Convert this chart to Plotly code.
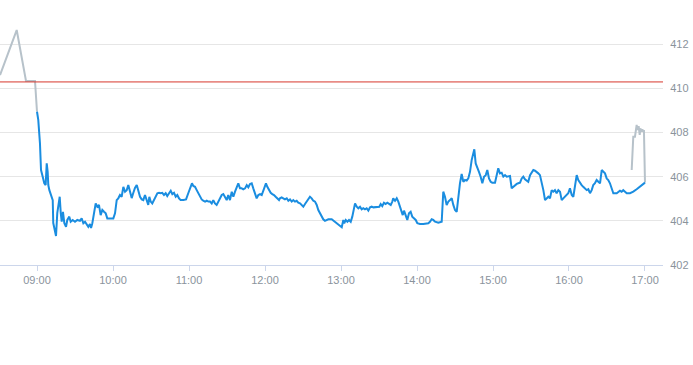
import plotly.graph_objects as go
import pandas as pd

DAY = "2024-01-01 "

pre_times = ["08:30:47", "08:43:58", "08:51:19", "08:58:25", "09:00:00"]
pre_prices = [410.60, 412.64, 410.33, 410.33, 408.94]

session_times = [
    "09:00:00", "09:01:00", "09:02:20", "09:03:10", "09:04:30", "09:05:45", "09:06:50", "09:07:40",
    "09:08:25", "09:08:55", "09:09:45", "09:11:15", "09:12:25", "09:12:50", "09:14:00", "09:15:00",
    "09:16:00", "09:17:10", "09:17:55", "09:18:45", "09:19:30", "09:20:30", "09:21:35", "09:22:55",
    "09:23:55", "09:25:30", "09:26:35", "09:28:10", "09:30:00", "09:31:50", "09:33:55", "09:35:15",
    "09:36:35", "09:37:55", "09:39:15", "09:40:30", "09:41:50", "09:42:40", "09:43:40", "09:45:00",
    "09:46:20", "09:47:35", "09:48:55", "09:50:15", "09:51:35", "09:52:55", "09:54:15", "09:55:30",
    "09:57:40", "10:00:15", "10:01:35", "10:02:55", "10:04:10", "10:05:30", "10:06:50", "10:08:10",
    "10:09:30", "10:10:50", "10:12:05", "10:13:25", "10:14:45", "10:16:00", "10:17:20", "10:18:45",
    "10:20:00", "10:21:20", "10:22:40", "10:23:55", "10:25:15", "10:26:35", "10:27:50", "10:28:40",
    "10:29:45", "10:31:00", "10:32:20", "10:33:45", "10:35:00", "10:36:20", "10:37:40", "10:38:55",
    "10:40:15", "10:41:35", "10:42:50", "10:44:15", "10:45:35", "10:46:50", "10:48:10", "10:49:30",
    "10:50:45", "10:52:05", "10:53:25", "10:55:30", "10:57:40", "10:59:25", "11:01:20", "11:02:20",
    "11:03:25", "11:04:45", "11:06:05", "11:07:20", "11:08:40", "11:10:00", "11:11:15", "11:12:40",
    "11:14:00", "11:15:15", "11:16:35", "11:17:55", "11:19:10", "11:20:30", "11:21:50", "11:23:10",
    "11:24:30", "11:25:50", "11:27:05", "11:28:25", "11:29:45", "11:31:00", "11:32:20", "11:33:45",
    "11:35:00", "11:36:20", "11:37:40", "11:38:55", "11:40:15", "11:41:35", "11:42:50", "11:44:15",
    "11:45:35", "11:46:50", "11:48:10", "11:49:30", "11:50:45", "11:52:05", "11:53:25", "11:54:45",
    "11:56:05", "11:57:25", "11:58:40", "12:00:00", "12:00:45", "12:01:50", "12:03:10", "12:04:30",
    "12:05:45", "12:07:05", "12:08:25", "12:09:45", "12:11:05", "12:11:50", "12:13:10", "12:14:25",
    "12:15:45", "12:17:10", "12:18:25", "12:19:45", "12:21:05", "12:22:20", "12:23:40", "12:25:00",
    "12:26:15", "12:27:40", "12:29:00", "12:30:15", "12:31:35", "12:32:55", "12:34:10", "12:35:30",
    "12:36:50", "12:38:10", "12:39:30", "12:40:50", "12:42:05", "12:43:25", "12:44:45", "12:46:00",
    "12:47:20", "12:48:45", "12:50:00", "12:52:40", "12:55:15", "12:56:35", "12:57:50", "12:59:15",
    "13:00:35", "13:01:50", "13:02:35", "13:03:45", "13:05:00", "13:06:20", "13:07:40", "13:08:55",
    "13:10:15", "13:11:05", "13:12:25", "13:13:40", "13:15:00", "13:16:20", "13:17:35", "13:18:55",
    "13:20:15", "13:21:35", "13:22:55", "13:24:15", "13:25:30", "13:28:10", "13:30:15", "13:31:20",
    "13:32:35", "13:33:55", "13:35:15", "13:36:35", "13:37:55", "13:39:15", "13:40:30", "13:41:15",
    "13:42:40", "13:44:00", "13:45:15", "13:46:35", "13:47:55", "13:48:45", "13:49:45", "13:51:05",
    "13:52:20", "13:53:40", "13:55:00", "13:56:15", "13:57:40", "13:59:00", "14:00:15", "14:02:20",
    "14:05:00", "14:07:40", "14:08:55", "14:10:15", "14:11:35", "14:12:50", "14:14:15", "14:16:50",
    "14:19:30", "14:20:45", "14:22:05", "14:23:25", "14:24:45", "14:26:05", "14:27:25", "14:28:40",
    "14:30:00", "14:31:20", "14:32:35", "14:33:55", "14:35:15", "14:36:35", "14:37:55", "14:39:15",
    "14:40:30", "14:41:50", "14:43:10", "14:44:25", "14:45:15", "14:46:20", "14:47:35", "14:48:55",
    "14:50:15", "14:51:35", "14:52:55", "14:54:15", "14:55:30", "14:56:50", "14:58:10", "14:59:25",
    "15:01:35", "15:02:55", "15:04:10", "15:05:30", "15:06:50", "15:08:10", "15:09:30", "15:10:50",
    "15:12:05", "15:13:25", "15:14:45", "15:16:00", "15:17:20", "15:18:45", "15:20:00", "15:21:20",
    "15:22:40", "15:23:55", "15:25:15", "15:26:35", "15:27:50", "15:29:15", "15:30:35", "15:31:50",
    "15:33:10", "15:34:30", "15:35:45", "15:37:05", "15:38:25", "15:39:45", "15:41:05", "15:42:25",
    "15:43:40", "15:45:00", "15:46:20", "15:47:35", "15:48:55", "15:50:15", "15:51:35", "15:52:55",
    "15:54:15", "15:55:30", "15:56:50", "15:58:10", "15:59:25", "16:00:45", "16:02:10", "16:03:25",
    "16:04:45", "16:06:05", "16:07:20", "16:08:40", "16:10:00", "16:11:15", "16:12:40", "16:14:00",
    "16:15:15", "16:16:35", "16:17:55", "16:19:10", "16:20:30", "16:21:50", "16:23:10", "16:24:30",
    "16:25:50", "16:27:05", "16:28:25", "16:29:45", "16:31:00", "16:32:20", "16:33:45", "16:35:00",
    "16:37:40", "16:38:55", "16:40:15", "16:41:35", "16:42:50", "16:44:15", "16:45:35", "16:48:10",
    "16:50:45", "16:53:25", "16:56:05", "16:58:40", "17:00:00",
]
session_prices = [
    408.94, 408.57, 407.51, 406.30, 406.00, 405.70, 405.62, 406.60,
    406.22, 405.62, 405.39, 405.17, 404.94, 403.90, 403.58, 403.31,
    404.35, 404.94, 405.09, 404.35, 403.96, 404.41, 403.89, 403.73,
    404.04, 404.19, 403.96, 404.04, 403.96, 404.04, 404.00, 404.11,
    403.89, 403.96, 403.81, 403.73, 403.86, 403.67, 403.89, 404.34,
    404.79, 404.64, 404.72, 404.26, 404.49, 404.41, 404.34, 404.11,
    404.11, 404.11, 404.34, 404.94, 405.02, 405.17, 405.09, 405.54,
    405.32, 405.39, 405.62, 405.35, 405.03, 405.26, 405.49, 405.62,
    405.39, 405.09, 404.97, 404.94, 405.17, 404.87, 404.72, 405.09,
    404.87, 404.79, 404.94, 405.09, 405.25, 405.27, 405.25, 405.27,
    405.17, 405.25, 405.12, 405.25, 405.36, 405.21, 405.27, 405.09,
    405.17, 405.02, 404.94, 404.94, 404.97, 405.25, 405.52, 405.70,
    405.58, 405.54, 405.39, 405.25, 405.12, 404.97, 404.91, 404.87,
    404.91, 404.87, 404.87, 404.79, 404.94, 404.79, 404.72, 404.87,
    405.02, 405.17, 405.21, 405.09, 404.94, 405.17, 404.94, 405.32,
    405.09, 405.32, 405.54, 405.70, 405.47, 405.47, 405.43, 405.47,
    405.62, 405.52, 405.67, 405.70, 405.47, 405.25, 405.02, 405.17,
    405.21, 405.17, 405.39, 405.62, 405.70, 405.54, 405.39, 405.27,
    405.21, 405.17, 405.09, 405.02, 404.94, 405.02, 405.06, 405.02,
    404.97, 405.02, 404.91, 404.97, 404.87, 404.94, 404.87, 404.91,
    404.82, 404.79, 404.72, 404.64, 404.76, 404.87, 404.97, 405.09,
    405.02, 404.91, 404.87, 404.72, 404.49, 404.34, 404.19, 404.07,
    404.00, 404.04, 404.07, 404.07, 403.96, 403.89, 403.81, 403.76,
    403.71, 404.04, 403.89, 404.04, 403.96, 404.04, 403.96, 404.19,
    404.49, 404.79, 404.64, 404.57, 404.64, 404.52, 404.57, 404.52,
    404.57, 404.46, 404.61, 404.64, 404.61, 404.64, 404.64, 404.76,
    404.67, 404.82, 404.76, 404.82, 404.76, 404.72, 404.87, 405.02,
    404.91, 405.02, 404.87, 404.64, 404.41, 404.26, 404.46, 404.19,
    404.04, 404.34, 404.41, 404.19, 404.11, 404.04, 403.89, 403.86,
    403.86, 403.86, 403.89, 403.96, 404.07, 404.04, 403.96, 403.91,
    403.96, 405.32, 405.09, 404.72, 404.87, 404.94, 405.02, 404.72,
    404.49, 404.41, 405.09, 405.70, 406.12, 405.77, 405.85, 405.82,
    405.92, 406.22, 406.75, 407.13, 407.24, 406.60, 406.45, 406.22,
    406.00, 405.70, 406.00, 406.07, 406.30, 405.92, 405.77, 405.73,
    405.73, 406.07, 406.38, 406.15, 406.18, 406.00, 406.07, 406.00,
    406.00, 406.03, 405.47, 405.54, 405.58, 405.67, 405.70, 405.73,
    405.92, 406.00, 405.88, 405.82, 405.77, 406.07, 406.22, 406.30,
    406.27, 406.22, 406.15, 406.07, 405.77, 405.39, 404.94, 405.02,
    405.09, 405.02, 405.39, 405.32, 405.39, 405.25, 405.39, 405.32,
    404.94, 405.02, 405.09, 405.17, 405.25, 405.47, 405.17, 405.09,
    405.54, 406.07, 405.85, 405.70, 405.62, 405.54, 405.47, 405.39,
    405.43, 405.25, 405.39, 405.62, 405.70, 405.85, 405.77, 405.70,
    406.30, 406.22, 406.15, 405.92, 405.85, 405.70, 405.47, 405.25,
    405.25, 405.32, 405.36, 405.32, 405.39, 405.32, 405.25, 405.25,
    405.32, 405.43, 405.54, 405.67, 405.73,
]

post_times = ["16:49:30", "16:50:45", "16:52:05", "16:52:55", "16:53:25", "16:54:10", "16:55:00",
              "16:55:50", "16:56:20", "16:57:05", "16:57:55", "16:58:40", "16:59:10", "17:00:00"]
post_prices = [406.30, 407.81, 407.81, 408.11, 408.34, 408.11, 408.29,
               407.89, 408.19, 408.04, 408.14, 408.04, 408.11, 405.73]

previous_close = 410.29

x_tick_labels = ["09:00", "10:00", "11:00", "12:00", "13:00", "14:00", "15:00", "16:00", "17:00"]
y_tick_values = [402, 404, 406, 408, 410, 412]
x_start, x_end = "08:30:47", "17:14:13"
y_min, y_max = 402, 414


def ts(lst):
    return pd.to_datetime([DAY + t for t in lst])


fig = go.Figure()
fig.add_trace(go.Scatter(x=ts(pre_times), y=pre_prices, mode="lines",
                         line=dict(color="#b7c2ca", width=2), hoverinfo="skip"))
fig.add_trace(go.Scatter(x=ts(post_times), y=post_prices, mode="lines",
                         line=dict(color="#b7c2ca", width=2), hoverinfo="skip"))
fig.add_trace(go.Scatter(x=ts(session_times), y=session_prices, mode="lines",
                         line=dict(color="#1a8de0", width=2)))
fig.add_hline(y=previous_close, line=dict(color="#d8372c", width=1))

fig.update_layout(
    width=693, height=365,
    margin=dict(l=0, r=30, t=0, b=100),
    paper_bgcolor="white", plot_bgcolor="white",
    showlegend=False,
    font=dict(family="Liberation Sans, Arial, sans-serif", color="#8a939c"),
    xaxis=dict(
        type="date",
        range=[DAY + x_start, DAY + x_end],
        tickvals=ts([t + ":00" for t in x_tick_labels]),
        ticktext=x_tick_labels,
        showgrid=False, showline=True, linecolor="#ccd6eb", linewidth=1,
        ticks="outside", ticklen=5, tickcolor="#ccd6eb",
        tickfont=dict(size=11, color="#8a939c"),
        zeroline=False,
    ),
    yaxis=dict(
        side="right",
        range=[y_min, y_max],
        tickvals=y_tick_values,
        ticktext=[str(v) for v in y_tick_values],
        showgrid=True, gridcolor="#e6e6e6", gridwidth=1,
        showline=False, zeroline=False,
        ticks="outside", ticklen=4, tickcolor="rgba(0,0,0,0)",
        tickfont=dict(size=11, color="#8a939c"),
    ),
)

fig.write_html("out.html")
